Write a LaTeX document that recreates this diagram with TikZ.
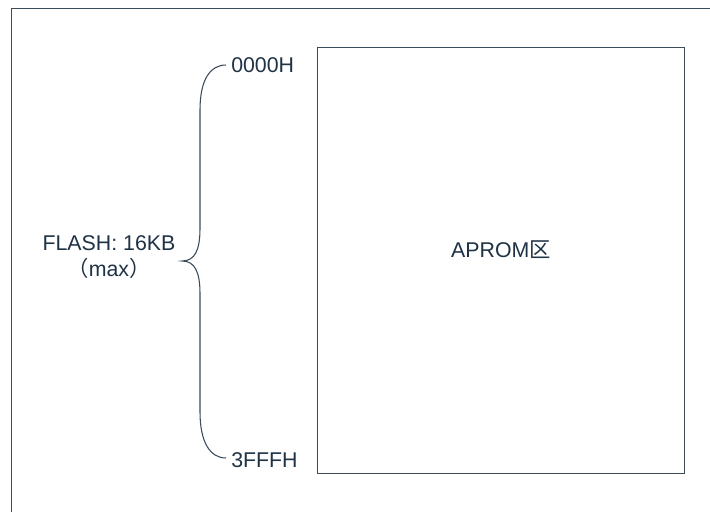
\documentclass[tikz,border=0pt]{standalone}
\usepackage{fontspec}
\setmainfont{Liberation Sans}
\newfontfamily\cjk{Noto Sans CJK SC}
\definecolor{txt}{HTML}{1F3246}
\definecolor{ln}{HTML}{3A4B5C}
\begin{document}
\begin{tikzpicture}[x=0.75pt,y=-0.75pt,
  lbl/.style={text=txt,font=\fontsize{16}{19}\selectfont,inner sep=0pt},
  frm/.style={draw=ln,line width=0.9pt},
  brc/.style={draw=ln,line width=0.8pt}]
\useasboundingbox (0,0) rectangle (710,512);
% outer frame (cropped at right and bottom)
\draw[frm] (11.5,512) -- (11.5,8.5) -- (710,8.5);
% APROM box
\node[frm,minimum width=367*0.75pt,minimum height=426*0.75pt,inner sep=0pt,anchor=north west] (aprom) at (317,47) {};
\node[lbl] (apromlbl) at (501,250) {APROM{\cjk 区}};
% address labels
\node[lbl,anchor=west] (top) at (231,65) {0000H};
\node[lbl,anchor=west] (bot) at (231,460) {3FFFH};
% brace
\coordinate (bt) at (226,65);
\coordinate (bb) at (226,458);
\coordinate (tip) at (182,261);
\draw[brc] (bt) .. controls (210,65) and (200,80) .. (200,110) -- (200,228)
  .. controls (200,250) and (195,261) .. (tip)
  .. controls (195,261) and (200,272) .. (200,294) -- (200,412)
  .. controls (200,442) and (210,458) .. (bb);
% flash label
\node[lbl,align=center] (flash) at (109,257) {FLASH: 16KB\\[1pt]{\cjk （}max{\cjk ）}};
\end{tikzpicture}
\end{document}
